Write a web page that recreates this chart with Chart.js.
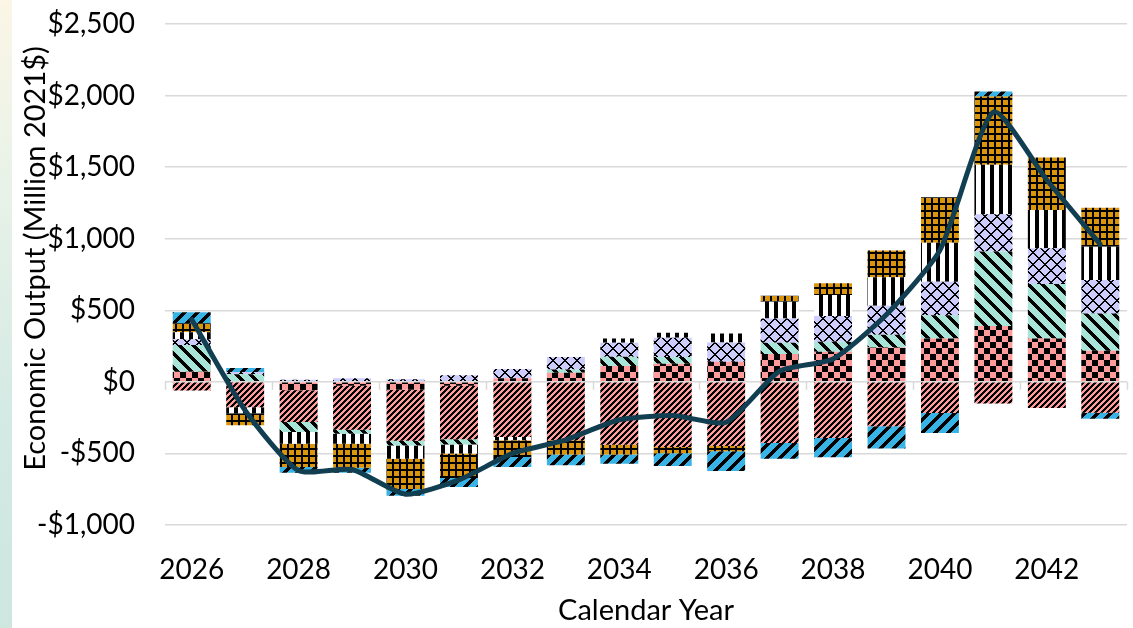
<!DOCTYPE html>
<html>
<head>
<meta charset="utf-8">
<script src="https://cdn.jsdelivr.net/npm/chart.js@4.4.1/dist/chart.umd.min.js"></script>
<style>
  html, body { margin: 0; padding: 0; background: #fff; }
  body { width: 1133px; height: 628px; position: relative; overflow: hidden; }
  .edge {
    position: absolute; left: 0; top: 0; width: 12px; height: 628px;
    background: linear-gradient(to bottom, #fbf6e6 0%, #e8f2e8 30%, #d4eae4 65%, #cde6e0 100%);
  }
  #wrap { position: absolute; left: 0; top: 0; width: 1133px; height: 628px; }
</style>
</head>
<body>
<div class="edge"></div>
<div id="wrap"><canvas id="outputChart"></canvas></div>
<script>
const years = ['2026', '2027', '2028', '2029', '2030', '2031', '2032', '2033', '2034',
               '2035', '2036', '2037', '2038', '2039', '2040', '2041', '2042', '2043'];

// stacked components, million 2021$
const pinkChecker  = [70, 0, -58, -28, -55, -28, 25, 63, 110, 126, 140, 194, 210, 240, 303, 390, 303, 217];
const pinkStripe   = [-60, -177, -222, -306, -357, -373, -385, -408, -439, -455, -448, -427, -392, -310, -217, -152, -182, -215];
const tealStripe   = [187, 54, -70, -28, -33, -37, 0, 23, 65, 47, 0, 79, 70, 89, 163, 520, 380, 261];
const lavenderGrid = [40, 14, 15, 26, 18, 47, 65, 88, 98, 135, 135, 170, 180, 203, 233, 261, 250, 233];
const blackBars    = [49, -42, -82, -70, -93, -63, -23, 0, 30, 35, 63, 117, 147, 198, 273, 345, 268, 233];
const goldGrid     = [63, -84, -163, -168, -210, -170, -117, -100, -68, -44, -37, 42, 82, 187, 317, 478, 366, 273];
const blueStripe   = [77, 28, -40, -35, -47, -63, -70, -75, -65, -89, -138, -110, -135, -156, -140, 35, 0, -42];

// net total line
const netOutput = [435, -200, -620, -612, -785, -685, -500, -405, -265, -235, -282, 75, 160, 470, 920, 1885, 1410, 960];

const yTicks = [-1000, -500, 0, 500, 1000, 1500, 2000, 2500];

const canvas = document.getElementById('outputChart');
const ctx = canvas.getContext('2d');

// pixel tile -> repeating pattern
function tile(size, bg, isInk) {
  const c = document.createElement('canvas');
  c.width = size; c.height = size;
  const g = c.getContext('2d');
  g.fillStyle = bg;
  g.fillRect(0, 0, size, size);
  g.fillStyle = '#000';
  for (let y = 0; y < size; y++) {
    for (let x = 0; x < size; x++) {
      if (isInk(x, y, size)) g.fillRect(x, y, 1, 1);
    }
  }
  return ctx.createPattern(c, 'repeat');
}

const patterns = {
  checker: tile(12, '#ff9b9b', (x, y) => (Math.floor(x / 6) + Math.floor(y / 6)) % 2 === 0),
  pinkDiag: tile(6, '#ff9b9b', (x, y, s) => (x + y) % s < 3),
  tealDiag: tile(14, '#a8e4d8', (x, y, s) => (x - y + s) % s < 5),
  lattice: tile(12, '#cdcdfd', (x, y, s) => (x + y) % s < 2 || (x - y + s) % s < 2),
  vertical: tile(9, '#ffffff', (x) => x < 4),
  gold: tile(7, '#d9950b', (x, y) => x < 2 || y < 2),
  blueDiag: tile(13, '#38b3e6', (x, y, s) => (x + y) % s < 5)
};

const barSeries = [
  { label: 'Pink checker', data: pinkChecker, fill: patterns.checker },
  { label: 'Pink stripe', data: pinkStripe, fill: patterns.pinkDiag },
  { label: 'Teal stripe', data: tealStripe, fill: patterns.tealDiag },
  { label: 'Lavender lattice', data: lavenderGrid, fill: patterns.lattice },
  { label: 'Black bars', data: blackBars, fill: patterns.vertical },
  { label: 'Gold grid', data: goldGrid, fill: patterns.gold },
  { label: 'Blue stripe', data: blueStripe, fill: patterns.blueDiag }
];

const fontFamily = 'Lato, "Open Sans", sans-serif';

function money(v) {
  const s = '$' + Math.abs(v).toLocaleString('en-US');
  return v < 0 ? '-' + s : s;
}

// zero-line tick marks and the rotated y title
const axisDecor = {
  id: 'axisDecor',
  beforeDatasetsDraw(chart) {
    const { ctx, chartArea, scales: { y } } = chart;
    const y0 = y.getPixelForValue(0);
    const step = (chartArea.right - chartArea.left) / years.length;
    ctx.save();
    ctx.strokeStyle = '#d9d9d9';
    ctx.lineWidth = 1.5;
    for (let i = 0; i <= years.length; i += 2) {
      const px = Math.round(chartArea.left + step * i) + 0.5;
      ctx.beginPath();
      ctx.moveTo(px, y0);
      ctx.lineTo(px, y0 + 8);
      ctx.stroke();
    }
    ctx.restore();
  },
  afterDraw(chart) {
    const { ctx, chartArea } = chart;
    ctx.save();
    ctx.translate(36, (chartArea.top + chartArea.bottom) / 2 - 16);
    ctx.rotate(-Math.PI / 2);
    ctx.fillStyle = '#000';
    ctx.font = '29px ' + fontFamily;
    ctx.textAlign = 'center';
    ctx.textBaseline = 'middle';
    ctx.fillText('Economic Output (Million 2021$)', 0, 0);
    ctx.restore();
  }
};

new Chart(canvas, {
  type: 'bar',
  data: {
    labels: years,
    datasets: [
      ...barSeries.map(s => ({
        label: s.label,
        data: s.data,
        backgroundColor: s.fill,
        borderWidth: 0,
        barPercentage: 0.71,
        categoryPercentage: 1,
        stack: 'total',
        order: 1
      })),
      {
        type: 'line',
        label: 'Net',
        data: netOutput,
        borderColor: '#123e52',
        borderWidth: 5,
        borderJoinStyle: 'round',
        borderCapStyle: 'round',
        pointRadius: 0,
        tension: 0.2,
        fill: false,
        order: 0
      }
    ]
  },
  options: {
    responsive: true,
    maintainAspectRatio: false,
    animation: false,
    layout: { padding: { top: 24, right: 6, bottom: 0, left: 0 } },
    plugins: {
      legend: { display: false },
      tooltip: { enabled: false }
    },
    scales: {
      x: {
        stacked: true,
        grid: { display: false, drawTicks: false },
        border: { display: false },
        ticks: {
          autoSkip: false,
          maxRotation: 0,
          padding: 28,
          color: '#000',
          font: { family: fontFamily, size: 28 },
          callback: (v, i) => (i % 2 === 0 ? years[i] : '')
        },
        title: {
          display: true,
          text: 'Calendar Year',
          color: '#000',
          font: { family: fontFamily, size: 29 },
          padding: { top: 0, bottom: 0 }
        },
        afterFit: scale => { scale.height = 103; }
      },
      y: {
        stacked: true,
        min: yTicks[0],
        max: yTicks[yTicks.length - 1],
        afterBuildTicks: scale => { scale.ticks = yTicks.map(v => ({ value: v })); },
        grid: { color: '#d9d9d9', lineWidth: 1.5, drawTicks: false },
        border: { display: false },
        ticks: {
          padding: 30,
          color: '#000',
          font: { family: fontFamily, size: 28 },
          callback: v => money(v)
        },
        afterFit: scale => {
          scale.width = 165;
          scale.paddingTop = 0;
          scale.paddingBottom = 0;
        }
      }
    }
  },
  plugins: [axisDecor]
});
</script>
</body>
</html>
